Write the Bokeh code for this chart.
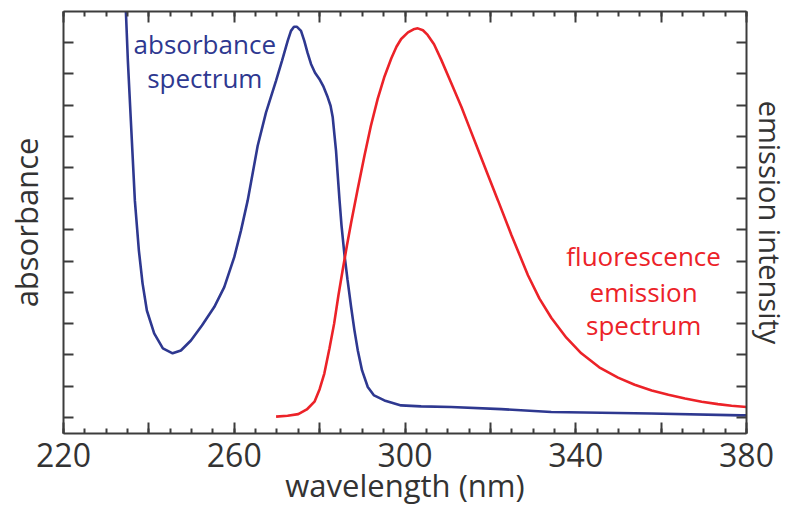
from bokeh.plotting import figure
from bokeh.models import LinearAxis, FixedTicker, Range1d, Label, CustomLabelingPolicy
from bokeh.embed import file_html
from bokeh.resources import INLINE

# ---- data ----
abs_wl = [234.26, 234.61, 235.08, 235.78, 236.72, 237.66, 238.52, 239.53, 241.24, 243.28,
          245.56, 247.50, 249.85, 252.43, 255.31, 257.66, 260.00, 261.57, 263.14, 265.49,
          267.43, 269.78, 271.18, 272.52, 273.29, 274.00, 274.70, 275.64, 276.41, 277.16,
          277.98, 278.92, 279.93, 280.91, 281.90, 282.56, 283.07, 283.49, 283.84, 284.20,
          284.67, 285.13, 285.79, 286.54, 287.36, 288.14, 288.93, 289.94, 291.28, 292.75,
          295.17, 299.08, 303.78, 310.80, 322.52, 334.25, 357.70, 378.80, 380.0]
abs_val = [13.66, 13.02, 11.42, 9.50, 6.94, 5.34, 4.29, 3.42, 2.69, 2.21,
           2.05, 2.14, 2.46, 2.94, 3.53, 4.17, 5.13, 5.98, 6.94, 8.70,
           9.76, 10.78, 11.42, 12.06, 12.38, 12.51, 12.51, 12.38, 12.06, 11.68,
           11.32, 11.04, 10.84, 10.59, 10.25, 9.98, 9.61, 9.02, 8.54, 7.84,
           6.94, 6.14, 5.24, 4.40, 3.55, 2.80, 2.15, 1.50, 0.97, 0.70,
           0.54, 0.38, 0.35, 0.33, 0.26, 0.17, 0.12, 0.06, 0.06]

em_wl = [269.8, 272.5, 275.0, 277.0, 278.8, 280.0, 281.1, 282.3, 283.4, 284.4,
         285.4, 286.4, 287.4, 288.9, 290.5, 292.0, 293.6, 295.2, 296.8, 298.0,
         299.1, 300.7, 302.0, 303.0, 304.2, 305.3, 306.8, 308.5, 310.8, 313.2,
         315.1, 317.1, 319.5, 321.8, 324.9, 328.8, 331.5, 334.3, 337.8, 341.3,
         345.5, 349.9, 353.8, 357.8, 361.7, 365.6, 369.5, 373.3, 376.5, 380.0]
em_val = [0.02, 0.05, 0.10, 0.25, 0.50, 0.90, 1.40, 2.20, 3.00, 3.90,
          4.72, 5.50, 6.25, 7.30, 8.38, 9.33, 10.20, 10.92, 11.50, 11.87,
          12.12, 12.33, 12.43, 12.46, 12.40, 12.25, 11.95, 11.45, 10.72, 9.95,
          9.28, 8.58, 7.74, 6.94, 5.85, 4.55, 3.80, 3.18, 2.55, 2.05,
          1.60, 1.27, 1.04, 0.86, 0.72, 0.60, 0.50, 0.42, 0.37, 0.33]

x_ticks = [220, 240, 260, 280, 300, 320, 340, 360, 380]
x_minor = list(range(220, 381, 5))
y_ticks = list(range(0, 13))

x_title = "wavelength (nm)"
y_title = "absorbance"
y2_title = "emission intensity"
abs_note = ["absorbance", "spectrum"]
em_note = ["fluorescence", "emission", "spectrum"]

FONT = "Open Sans"
AX = "#3c3c3c"
TXT = "#333333"
BLUE = "#2e3890"
RED = "#ec2228"

p = figure(width=793, height=512, output_backend="svg", toolbar_location=None,
           x_range=Range1d(220, 380), y_range=Range1d(-0.52, 13.0),
           min_border_left=63, min_border_right=47, min_border_top=11, min_border_bottom=79,
           x_axis_location=None, y_axis_location=None)
p.grid.visible = False
p.outline_line_color = None
p.background_fill_color = "white"
p.border_fill_color = "white"

no_labels = CustomLabelingPolicy(code="return new Set()")
every_other = CustomLabelingPolicy(code="""
const out = new Set()
for (const i of indices) { if (i % 2 == 0) out.add(i) }
return out
""")


def style(ax, major_in, minor_in):
    ax.axis_line_color = AX
    ax.axis_line_width = 2
    ax.major_tick_line_color = AX
    ax.major_tick_line_width = 2
    ax.minor_tick_line_color = AX
    ax.minor_tick_line_width = 2
    ax.major_tick_in = major_in
    ax.major_tick_out = 0
    ax.minor_tick_in = minor_in
    ax.minor_tick_out = 0
    ax.major_label_text_font = FONT
    ax.major_label_text_color = TXT
    ax.axis_label_text_font = FONT
    ax.axis_label_text_font_style = "normal"
    ax.axis_label_text_color = TXT


xt = FixedTicker(ticks=x_ticks, minor_ticks=x_minor)
yt = FixedTicker(ticks=y_ticks, minor_ticks=[])

bottom = LinearAxis(ticker=xt, major_label_policy=every_other, axis_label=x_title)
style(bottom, 11, 5)
bottom.major_label_text_font_size = "32px"
bottom.major_label_standoff = 9
bottom.axis_label_text_font_size = "31px"
bottom.axis_label_standoff = -6
p.add_layout(bottom, "below")

top = LinearAxis(ticker=xt, major_label_policy=no_labels)
style(top, 11, 5)
top.major_label_text_font_size = "0px"
top.major_label_standoff = 0
p.add_layout(top, "above")

left = LinearAxis(ticker=yt, major_label_policy=no_labels, axis_label=y_title)
style(left, 10, 0)
left.major_label_text_font_size = "0px"
left.major_label_standoff = 0
left.axis_label_text_font_size = "31px"
left.axis_label_standoff = 17
p.add_layout(left, "left")

right = LinearAxis(ticker=yt, major_label_policy=no_labels, axis_label=y2_title)
style(right, 10, 0)
right.major_label_text_font_size = "0px"
right.major_label_standoff = 0
right.axis_label_text_font_size = "29px"
right.axis_label_standoff = 4
p.add_layout(right, "right")

p.line(abs_wl, abs_val, line_color=BLUE, line_width=2.6)
p.line(em_wl, em_val, line_color=RED, line_width=2.6)

# curve annotations
for txt, yy in zip(abs_note, [11.97, 10.88]):
    p.add_layout(Label(x=253.1, y=yy, text=txt, text_align="center", text_baseline="middle",
                       text_font=FONT, text_font_size="26px", text_color=BLUE))
for txt, yy in zip(em_note, [5.18, 4.02, 2.95]):
    p.add_layout(Label(x=355.9, y=yy, text=txt, text_align="center", text_baseline="middle",
                       text_font=FONT, text_font_size="26px", text_color=RED))

open("out.html", "w").write(file_html(p, INLINE))
